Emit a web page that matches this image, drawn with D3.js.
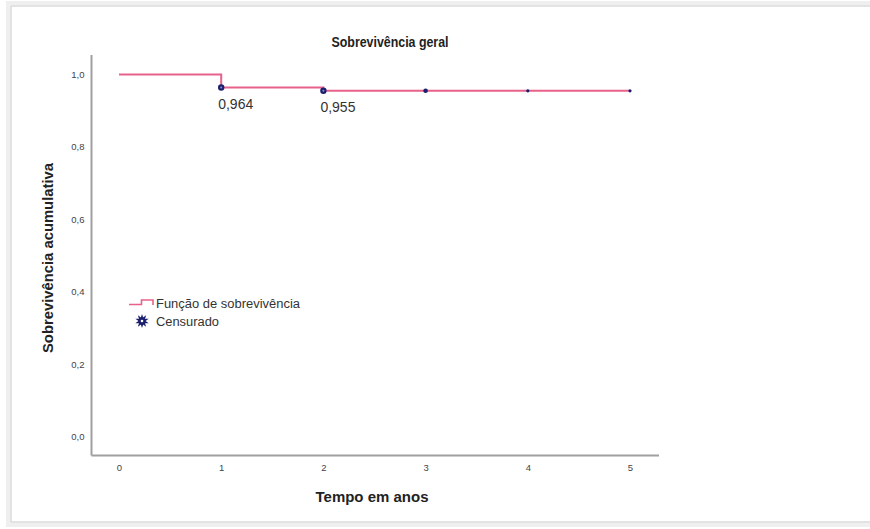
<!DOCTYPE html>
<html>
<head>
<meta charset="utf-8">
<script src="https://cdn.jsdelivr.net/npm/d3@7/dist/d3.min.js"></script>
<style>
  html, body { margin: 0; padding: 0; background: #ffffff; }
  svg { display: block; }
</style>
</head>
<body>
<svg id="chart" width="870" height="529"></svg>
<script>
// ---- data ----
const title = "Sobrevivência geral";
const xLabel = "Tempo em anos";
const yLabel = "Sobrevivência acumulativa";
const stepTimes = [0, 1, 2, 5];
const stepSurvival = [1.0, 0.964, 0.955, 0.955];
const censorTimes = [1, 2, 3, 4, 5];
const censorSurvival = [0.964, 0.955, 0.955, 0.955, 0.955];
const annotationTimes = [1, 2];
const annotationValues = [0.964, 0.955];
const annotationTexts = ["0,964", "0,955"];
const xTicks = [0, 1, 2, 3, 4, 5];
const yTicks = [0.0, 0.2, 0.4, 0.6, 0.8, 1.0];
const legendLabels = ["Função de sobrevivência", "Censurado"];

// ---- styles ----
const markerR = [3.2, 3.2, 2.3, 1.6, 1.6];
const lineColor = "#e8618a";
const censorColor = "#1b1f6e";
const axisColor = "#a0a0a0";
const font = "'Liberation Sans', Arial, sans-serif";

const svg = d3.select("#chart");

// frame
svg.append("rect").attr("x", 8).attr("y", 3).attr("width", 880).attr("height", 522)
  .attr("fill", "none").attr("stroke", "#efefef").attr("stroke-width", 4);
svg.append("rect").attr("x", 11).attr("y", 6).attr("width", 880).attr("height", 516)
  .attr("fill", "#ffffff").attr("stroke", "#d0d0d0").attr("stroke-width", 1.2);

const x = d3.scaleLinear().domain([0, 5]).range([119, 630]);
const y = d3.scaleLinear().domain([0, 1]).range([436.5, 74.5]);

// axes lines
const axisLeft = 91.5, axisBottom = 455.5, axisRight = 659, axisTop = 55;
svg.append("line").attr("x1", axisLeft).attr("x2", axisLeft).attr("y1", axisTop).attr("y2", axisBottom)
  .attr("stroke", axisColor).attr("stroke-width", 2);
svg.append("line").attr("x1", axisLeft).attr("x2", axisRight).attr("y1", axisBottom).attr("y2", axisBottom)
  .attr("stroke", axisColor).attr("stroke-width", 2);

// axis tick labels via d3 axes (no tick lines)
const gx = svg.append("g").attr("transform", `translate(0,${axisBottom})`)
  .call(d3.axisBottom(x).tickValues(xTicks).tickSize(0).tickPadding(9).tickFormat(d3.format("d")));
const fmtComma = d => d.toFixed(1).replace(".", ",");
const gy = svg.append("g").attr("transform", `translate(${axisLeft},0)`)
  .call(d3.axisLeft(y).tickValues(yTicks).tickSize(0).tickPadding(7).tickFormat(fmtComma));
[gx, gy].forEach(g => {
  g.select(".domain").remove();
  g.selectAll("text").attr("font-family", font).attr("font-size", 9.5).attr("fill", "#444");
});

// title and labels
svg.append("text").attr("x", 390).attr("y", 47).attr("text-anchor", "middle")
  .attr("font-family", font).attr("font-weight", "bold").attr("font-size", 14).attr("fill", "#222")
  .attr("textLength", 117).attr("lengthAdjust", "spacingAndGlyphs")
  .text(title);
svg.append("text").attr("x", 372).attr("y", 502).attr("text-anchor", "middle")
  .attr("font-family", font).attr("font-weight", "bold").attr("font-size", 15).attr("fill", "#222")
  .attr("textLength", 113).attr("lengthAdjust", "spacingAndGlyphs")
  .text(xLabel);
svg.append("text").attr("transform", "translate(53,258) rotate(-90)").attr("text-anchor", "middle")
  .attr("font-family", font).attr("font-weight", "bold").attr("font-size", 15.5).attr("fill", "#222")
  .attr("textLength", 190).attr("lengthAdjust", "spacingAndGlyphs")
  .text(yLabel);

// step line
const stepData = stepTimes.map((t, i) => [t, stepSurvival[i]]);
svg.append("path").datum(stepData)
  .attr("d", d3.line().x(d => x(d[0])).y(d => y(d[1])).curve(d3.curveStepAfter))
  .attr("fill", "none").attr("stroke", lineColor).attr("stroke-width", 2);

// censored markers
censorTimes.forEach((t, i) => {
  svg.append("circle").attr("cx", x(t)).attr("cy", y(censorSurvival[i]))
    .attr("r", markerR[i]).attr("fill", censorColor);
  if (markerR[i] > 3) {
    svg.append("circle").attr("cx", x(t)).attr("cy", y(censorSurvival[i]))
      .attr("r", 1).attr("fill", "#8a8fd0");
  }
});

// annotations
annotationTimes.forEach((t, i) => {
  svg.append("text").attr("x", x(t) - 3).attr("y", y(annotationValues[i]) + 21)
    .attr("font-family", font).attr("font-size", 14).attr("fill", "#333")
    .text(annotationTexts[i]);
});

// legend
const lg = svg.append("g");
lg.append("path").attr("d", "M129,304.5 H141.5 V300 H153 V305")
  .attr("fill", "none").attr("stroke", lineColor).attr("stroke-width", 1.6);
lg.append("text").attr("x", 156).attr("y", 308).attr("font-family", font).attr("font-size", 12.5)
  .attr("fill", "#333").attr("textLength", 144).attr("lengthAdjust", "spacingAndGlyphs")
  .text(legendLabels[0]);
lg.append("path").attr("transform", "translate(142,321)")
  .attr("d", d3.symbol(d3.symbolStar).size(55)())
  .attr("fill", censorColor);
lg.append("path").attr("transform", "translate(142,321) rotate(36)")
  .attr("d", d3.symbol(d3.symbolStar).size(55)())
  .attr("fill", censorColor);
lg.append("circle").attr("cx", 142).attr("cy", 321).attr("r", 1.3).attr("fill", "#ffffff");
lg.append("text").attr("x", 156).attr("y", 325.5).attr("font-family", font).attr("font-size", 12.5)
  .attr("fill", "#333").attr("textLength", 63).attr("lengthAdjust", "spacingAndGlyphs")
  .text(legendLabels[1]);
</script>
</body>
</html>
